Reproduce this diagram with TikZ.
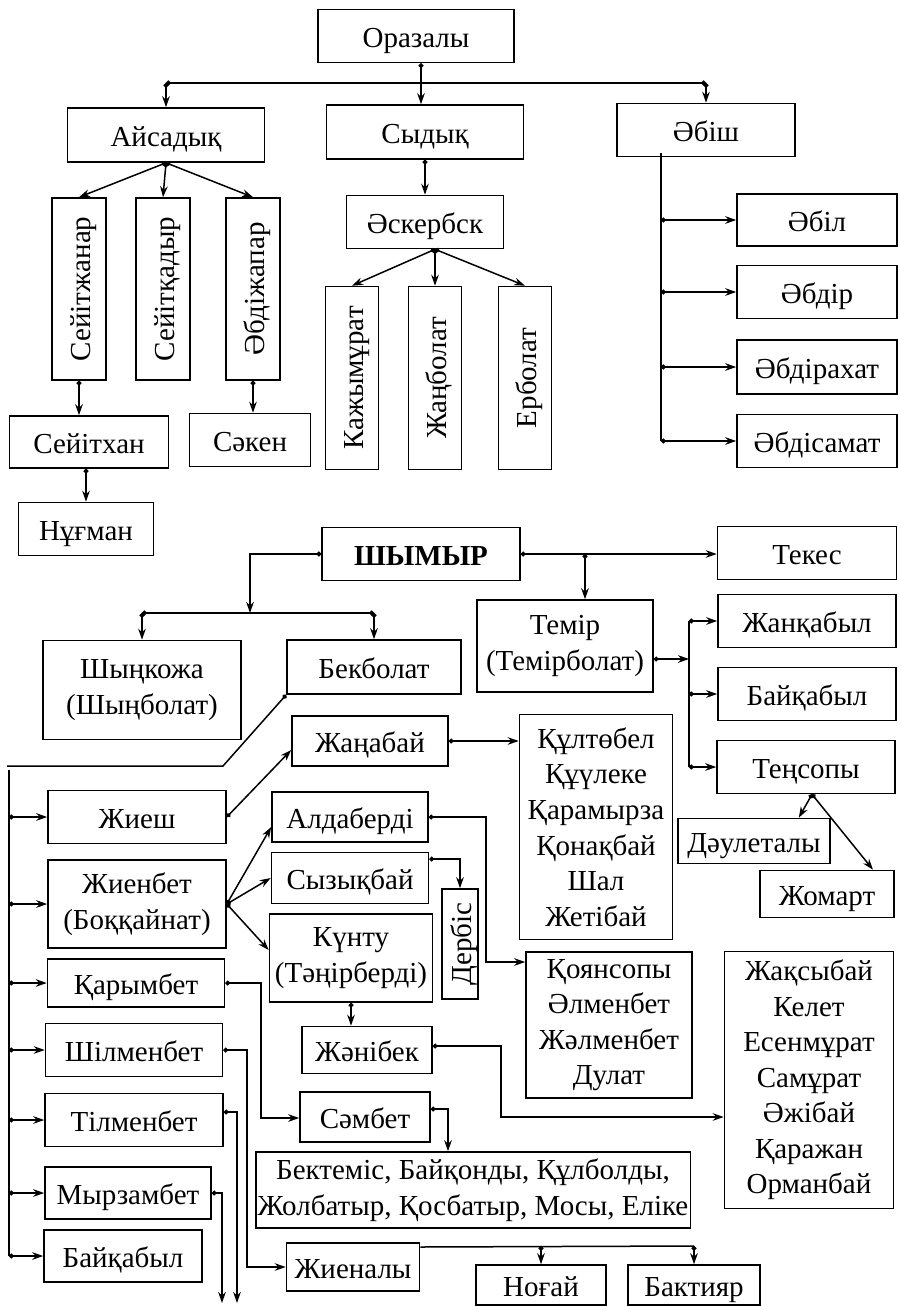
\documentclass[tikz,border=0pt]{standalone}
\usepackage{fontspec}
\setmainfont{Liberation Serif}
\usetikzlibrary{arrows.meta}

\begin{document}
\begin{tikzpicture}[
    x=0.5pt, y=-0.5pt,
    line width=0.75pt,
    font=\fontsize{14.5}{17.75}\selectfont,
    box/.style={
        draw,
        line width=0.8pt,
        align=center,
        inner sep=1pt,
        text height=13.5pt,
        text depth=2.5pt
    },
    ml/.style={text height=, text depth=},
    wh/.style 2 args={minimum width=#1*0.5pt, minimum height=#2*0.5pt},
    vbox/.style={box, rotate=90},
    arr/.style={{Circle[length=2.4pt]}-{Stealth[length=5.5pt, width=3.8pt]}},
    ln/.style={{Circle[length=2.4pt]}-{Circle[length=2.4pt]}}
]
\useasboundingbox (0,0) rectangle (899,1306);

% upper tree
\node[box, wh={196}{53}] (oraz)  at (416,36)  {Оразалы};
\node[box, wh={197}{54}] (aisad) at (166,135) {Айсадық};
\node[box, wh={197}{54}] (sydyk) at (425,132) {Сыдық};
\node[box, wh={178}{53}] (abish) at (706,130) {Әбіш};

\node[vbox, wh={182}{54}] (seitzh) at (79,289)  {Сейітжанар};
\node[vbox, wh={182}{54}] (seitk)  at (163,289) {Сейітқадыр};
\node[vbox, wh={182}{54}] (abdizh) at (253,289) {Әбдіжапар};

\node[box, wh={159}{52}] (seitkhan) at (89,442)  {Сейітхан};
\node[box, wh={121}{53}] (saken)    at (250,440) {Сәкен};
\node[box, wh={135}{53}] (nugman)   at (86,529)  {Нұғман};

\node[box, wh={157}{53}] (asker) at (425,222) {Әскербск};
\node[vbox, wh={183}{53}] (kazhy) at (352,378) {Кажымұрат};
\node[vbox, wh={183}{53}] (zhanb) at (435,378) {Жаңболат};
\node[vbox, wh={183}{53}] (erbol) at (525,378) {Ерболат};

\node[box, wh={160}{52}] (abil)     at (817,220) {Әбіл};
\node[box, wh={160}{53}] (abdir)    at (817,292) {Әбдір};
\node[box, wh={160}{54}] (abdirakh) at (817,367) {Әбдірахат};
\node[box, wh={160}{53}] (abdisam)  at (817,441) {Әбдісамат};

% lower tree
\node[box, wh={198}{53}, font=\fontsize{14.5}{17.75}\selectfont\bfseries] (shymyr) at (421,554) {ШЫМЫР};
\node[box, wh={179}{53}] (tekes)   at (807,553) {Текес};
\node[box, ml, wh={176}{92}] (temir) at (565,646) {Темір\\(Темірболат)};
\node[box, wh={178}{53}] (zhankab) at (807,621) {Жанқабыл};
\node[box, wh={178}{53}] (baikabR) at (807,694) {Байқабыл};
\node[box, wh={178}{53}] (tensopy) at (806,767) {Теңсопы};
\node[box, wh={152}{45}] (daulet)  at (754,841) {Дәулеталы};
\node[box, wh={134}{47}] (zhomart) at (827,894) {Жомарт};

\node[box, ml, wh={198}{99}] (shynk) at (142,690) {Шыңкожа\\(Шыңболат)};
\node[box, wh={174}{54}] (bekbol) at (374,667) {Бекболат};

\node[box, wh={178}{53}] (zhiesh)  at (137,817) {Жиеш};
\node[box, ml, wh={178}{88}] (zhienb) at (137,904) {Жиенбет\\(Боққайнат)};
\node[box, wh={177}{48}] (karym)   at (136,983) {Қарымбет};
\node[box, wh={177}{53}] (shilm)   at (134,1050) {Шілменбет};
\node[box, wh={178}{53}] (tilm)    at (134,1120) {Тілменбет};
\node[box, wh={166}{52}] (myrz)    at (128,1193) {Мырзамбет};
\node[box, wh={158}{52}] (baikabL) at (123,1256) {Байқабыл};

\node[box, wh={156}{50}] (zhanab) at (370,741) {Жаңабай};
\node[box, ml, wh={153}{225}] (kultob) at (596,827) {Құлтөбел\\Құүлеке\\Қарамырза\\Қонақбай\\Шал\\Жетібай};
\node[box, wh={156}{50}] (aldab)  at (350,817) {Алдаберді};
\node[box, wh={157}{51}] (syzyk)  at (350,878) {Сызықбай};
\node[box, ml, wh={163}{88}] (kuntu) at (351,958) {Күнту\\(Тәңірберді)};
\node[vbox, wh={110}{36}] (derbis) at (460,944) {Дербіс};
\node[box, ml, wh={166}{146}] (koyan) at (609,1025) {Қоянсопы\\Әлменбет\\Жәлменбет\\Дулат};
\node[box, ml, wh={169}{257}] (zhaksy) at (809,1080) {Жақсыбай\\Келет\\Есенмұрат\\Самұрат\\Әжібай\\Қаражан\\Орманбай};
\node[box, wh={130}{47}] (zhanib) at (367,1050) {Жәнібек};
\node[box, wh={130}{50}] (sambet) at (365,1117) {Сәмбет};
\node[box, ml, wh={420}{76}] (bektem) at (473,1190) {Бектеміс, Байқонды, Құлболды,\\Жолбатыр, Қосбатыр, Мосы, Еліке};
\node[box, wh={133}{48}] (zhienaly) at (353,1267) {Жиеналы};
\node[box, wh={130}{40}] (nogai)    at (541,1285) {Ноғай};
\node[box, wh={132}{40}] (baktiyar) at (694,1285) {Бактияр};

% connectors, upper tree
\coordinate (obar) at (0,83);
\draw[ln] (aisad.north |- obar) -- (abish.north |- obar);
\draw[arr] ([xshift=2.5pt]oraz.south) -- ([xshift=2.5pt]oraz.south |- sydyk.north);
\draw[arr] (aisad.north |- obar) -- (aisad.north);
\draw[arr] (abish.north |- obar) -- (abish.north);
\foreach \n in {seitzh,seitk,abdizh}
    \draw[arr] (aisad.south) -- (\n.east);
\draw[arr] (seitzh.west) -- (seitzh.west |- seitkhan.north);
\draw[arr] (abdizh.west) -- (abdizh.west |- saken.north);
\draw[arr] (nugman.north |- seitkhan.south) -- (nugman.north);
\draw[arr] (sydyk.south) -- (asker.north);
\foreach \n in {kazhy,zhanb,erbol}
    \draw[arr] (zhanb.east |- asker.south) -- (\n.east);
\coordinate (abtrunk) at (661,153);
\draw (abtrunk) -- (abtrunk |- abdisam.west);
\foreach \n in {abil,abdir,abdirakh,abdisam}
    \draw[arr] (abtrunk |- \n.west) -- (\n.west);

% connectors, lower tree
\coordinate (sbar) at (250,613);
\draw[arr] (shymyr.west) -| (sbar);
\draw[ln] (shynk.north |- sbar) -- (bekbol.north |- sbar);
\draw[arr] (shynk.north |- sbar) -- (shynk.north);
\draw[arr] (bekbol.north |- sbar) -- (bekbol.north);
\draw[arr] (shymyr.east) -- (shymyr.east -| tekes.west);
\draw[arr] ([xshift=10pt]temir.north |- shymyr.east) -- ([xshift=10pt]temir.north);

\coordinate (ttrunk) at (689,625);
\draw[arr] ([yshift=-6.5pt]temir.east) -- ([yshift=-6.5pt]temir.east -| ttrunk);
\draw (ttrunk |- zhankab.west) -- (ttrunk |- tensopy.west);
\foreach \n in {zhankab,baikabR,tensopy}
    \draw[arr] (ttrunk |- \n.west) -- (\n.west);
\draw[arr] ([xshift=3pt]tensopy.south) -- ([xshift=-16pt]daulet.north east);
\draw[arr] ([xshift=3pt]tensopy.south) -- ([xshift=23pt]zhomart.north);

\coordinate (lcorner) at (223,766);
\coordinate (lend) at (7,766);
\coordinate (ltrunk) at (9,770);
\draw[{Circle[length=2.4pt]}-] (bekbol.south west) -- (lcorner) -- (lend);
\draw (ltrunk) -- (ltrunk |- baikabL.west);
\foreach \n in {zhiesh,zhienb,karym,shilm,tilm,myrz,baikabL}
    \draw[arr] (ltrunk |- \n.west) -- (\n.west);

\draw[arr] (zhiesh.east) -- ([yshift=-4.5pt]zhanab.west);
\draw[arr] (zhanab.east) -- (zhanab.east -| kultob.west);
\draw[arr] (zhienb.east) -- ([yshift=-5pt]aldab.west);
\draw[arr] (zhienb.east) -- (syzyk.west);
\draw[arr] (zhienb.east) -- ([yshift=4pt]kuntu.west);

\coordinate (atrunk) at (486,962);
\draw[arr] (aldab.east) -| (atrunk) -- (atrunk -| koyan.west);
\draw[arr] ([yshift=9.5pt]syzyk.east) -| (derbis.east);
\draw[arr] (kuntu.south) -- (kuntu.south |- zhanib.north);
\coordinate (jtrunk) at (501,1117);
\draw[arr] ([yshift=2pt]zhanib.east) -| (jtrunk) -- (jtrunk -| zhaksy.west);
\coordinate (ktrunk) at (261,1118);
\draw[arr] (karym.east) -| (ktrunk) -- (ktrunk -| sambet.west);
\draw[arr] ([yshift=4pt]sambet.east) -| ([xshift=-12.5pt]bektem.north);

\coordinate (strunk) at (247,1267);
\draw[arr] (shilm.east) -| (strunk) -- (strunk -| zhienaly.west);
\coordinate (tdown) at (237,1303);
\coordinate (mdown) at (222,1303);
\draw[arr] ([yshift=4pt]tilm.east) -| (tdown);
\draw[arr] (myrz.east) -| (mdown);
\coordinate (jbar) at (0,1246);
\draw ([yshift=10pt]zhienaly.east) -- (baktiyar.north |- jbar);
\foreach \n in {nogai,baktiyar}
    \draw[arr] (\n.north |- jbar) -- (\n.north);

\end{tikzpicture}
\end{document}
